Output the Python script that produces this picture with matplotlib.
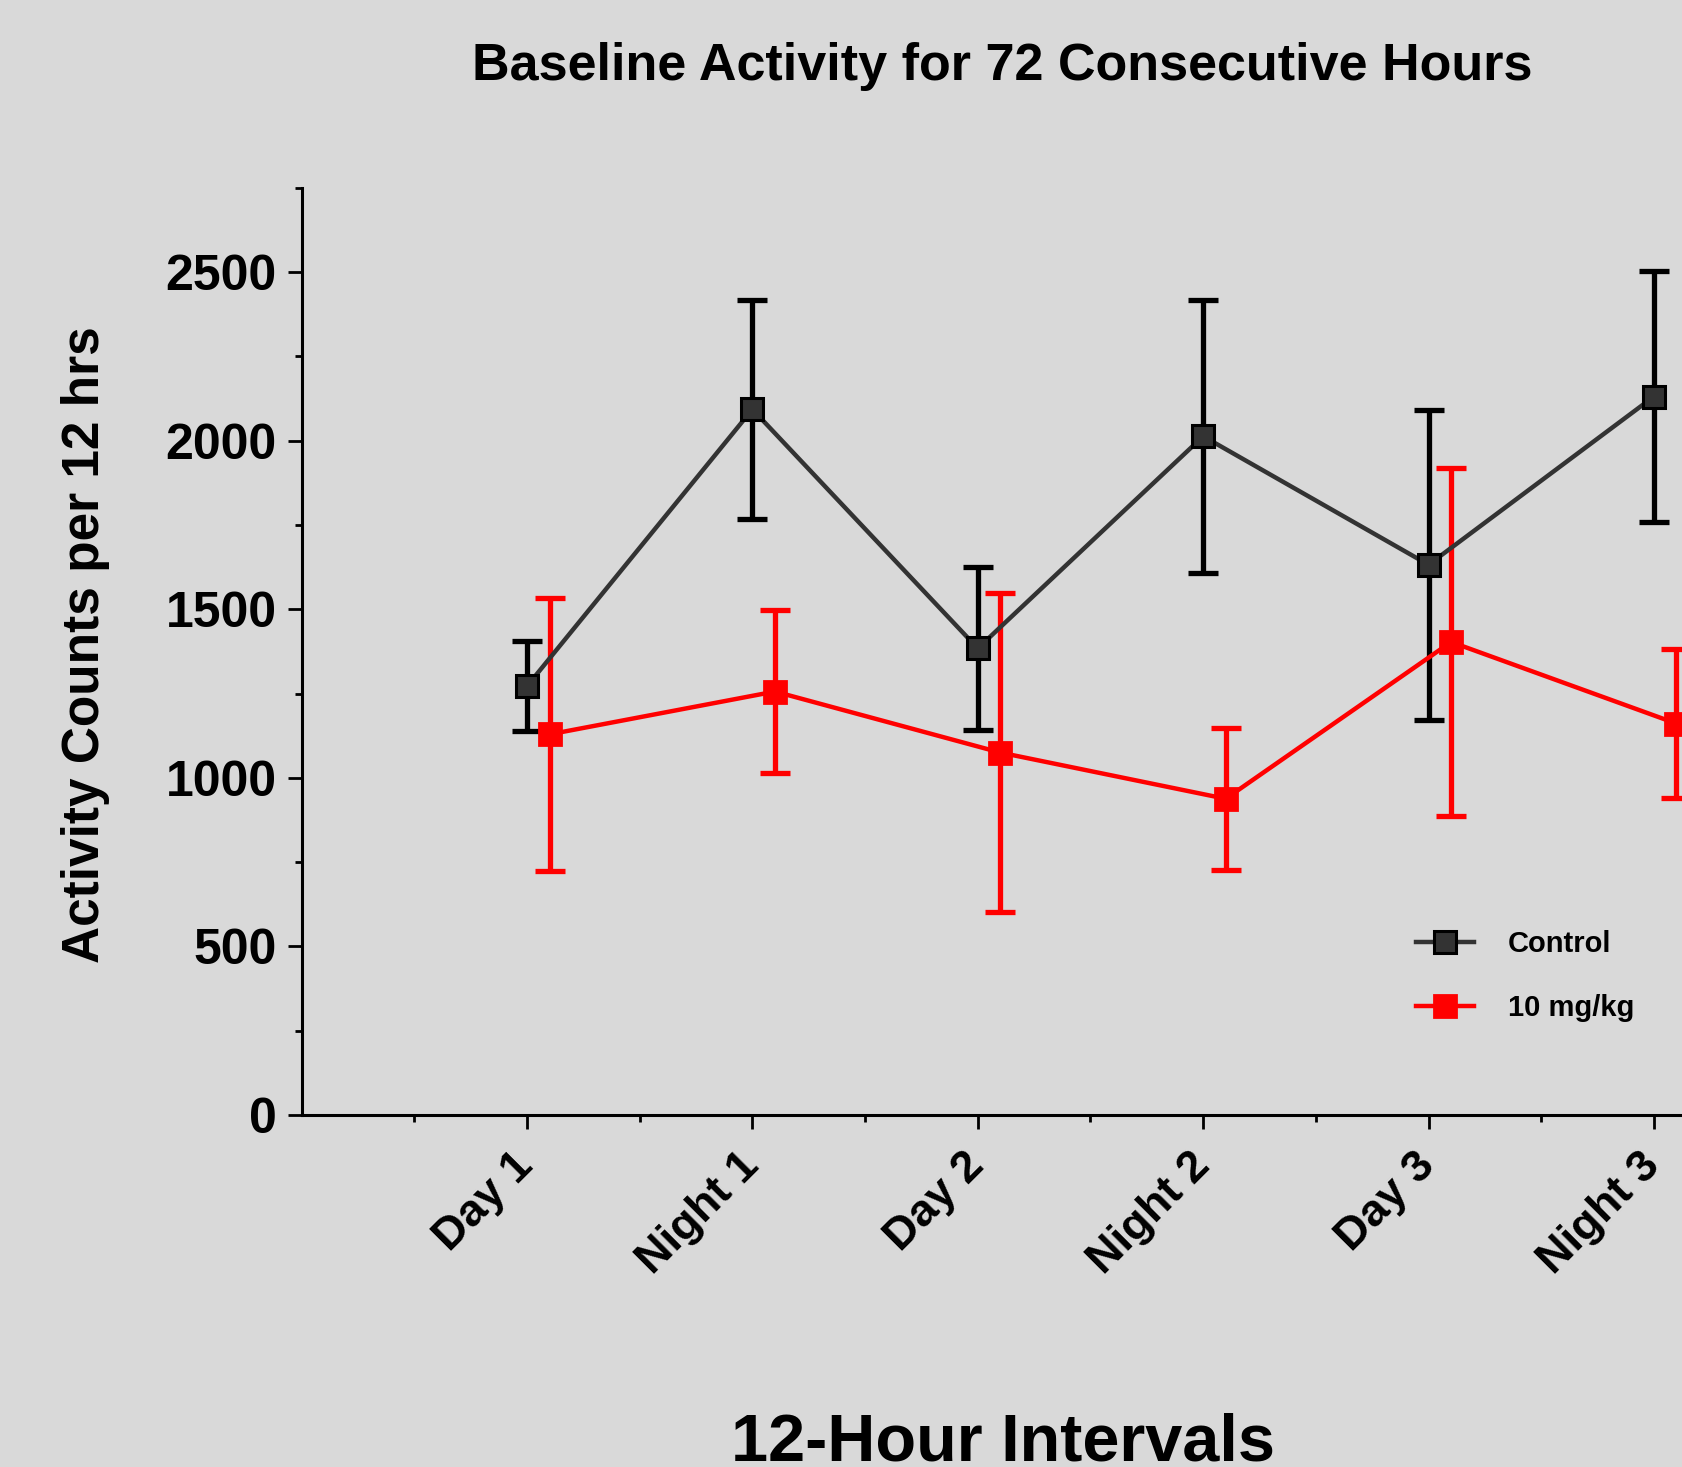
import matplotlib
matplotlib.use("Agg")
import matplotlib.pyplot as plt
from matplotlib.ticker import MultipleLocator, FixedLocator

plt.rcParams['font.family'] = ['Liberation Sans', 'DejaVu Sans']
plt.rcParams['font.weight'] = 'bold'

categories = ["Day 1", "Night 1", "Day 2", "Night 2", "Day 3", "Night 3"]
control_mean = [1272, 2093, 1384, 2013, 1632, 2131]
control_err = [134, 324, 242, 405, 459, 372]
dose_mean = [1129, 1256, 1075, 938, 1403, 1161]
dose_err = [404, 243, 472, 210, 515, 221]
series_names = ["Control", "10 mg/kg"]

bg = "#d9d9d9"
fig = plt.figure(figsize=(16.83, 14.67), dpi=100, facecolor=bg)
ax = fig.add_axes([0.1792, 0.2399, 0.833, 0.6321], facecolor=bg)

x_c = [i + 1 for i in range(len(categories))]
x_d = [i + 1.1 for i in range(len(categories))]

ax.errorbar(x_c, control_mean, yerr=control_err, fmt='none', ecolor='black',
            elinewidth=3.8, capsize=11, capthick=3.8, zorder=2)
ax.errorbar(x_d, dose_mean, yerr=dose_err, fmt='none', ecolor='#ff0000',
            elinewidth=3.8, capsize=11, capthick=3.8, zorder=2)
l1, = ax.plot(x_c, control_mean, color='#333333', lw=3.2, marker='s', ms=16,
              mfc='#333333', mec='black', mew=2.2, zorder=3, label=series_names[0])
l2, = ax.plot(x_d, dose_mean, color='#ff0000', lw=3.2, marker='s', ms=16,
              mfc='#ff0000', mec='#ff0000', mew=2, zorder=3, label=series_names[1])

ax.set_xlim(0, 6.22)
ax.set_ylim(0, 2750)
ax.yaxis.set_major_locator(FixedLocator([0, 500, 1000, 1500, 2000, 2500]))
ax.yaxis.set_minor_locator(MultipleLocator(250))
ax.xaxis.set_major_locator(FixedLocator(x_c))
ax.xaxis.set_minor_locator(FixedLocator([0.5, 1.5, 2.5, 3.5, 4.5, 5.5]))
ax.set_xticklabels(categories, rotation=45, ha='right', va='center',
                   rotation_mode='anchor', fontsize=32.5, fontweight='bold')
for lab in ax.get_yticklabels():
    lab.set_fontsize(36)
    lab.set_fontweight('bold')

for s in ['top', 'right']:
    ax.spines[s].set_visible(False)
for s in ['left', 'bottom']:
    ax.spines[s].set_linewidth(2.2)
ax.tick_params(axis='both', which='major', length=10, width=2, color='black')
ax.tick_params(axis='both', which='minor', length=5, width=2, color='black')
ax.tick_params(axis='x', which='major', pad=22)
ax.tick_params(axis='y', which='major', pad=8)

ax.set_ylabel("Activity Counts per 12 hrs", fontsize=37, fontweight='bold')
ax.yaxis.set_label_coords(-0.1367, 0.507)
ax.set_xlabel("12-Hour Intervals", fontsize=48, fontweight='bold', va='center')
ax.xaxis.set_label_coords(0.5, -0.354)

fig.text(1002.6 / 1683, 1 - 80 / 1467, "Baseline Activity for 72 Consecutive Hours",
         ha='center', va='baseline', fontsize=37.5, fontweight='bold')

leg = ax.legend(handles=[l1, l2], loc='upper left', frameon=False,
                bbox_to_anchor=(1416 / 1683, 1 - 930 / 1467), bbox_transform=fig.transFigure,
                fontsize=21, handlelength=2.0, handletextpad=1.15, labelspacing=1.25,
                borderpad=0, borderaxespad=0)
for t in leg.get_texts():
    t.set_fontweight('bold')

fig.savefig("out.png", dpi=100, facecolor=bg)
